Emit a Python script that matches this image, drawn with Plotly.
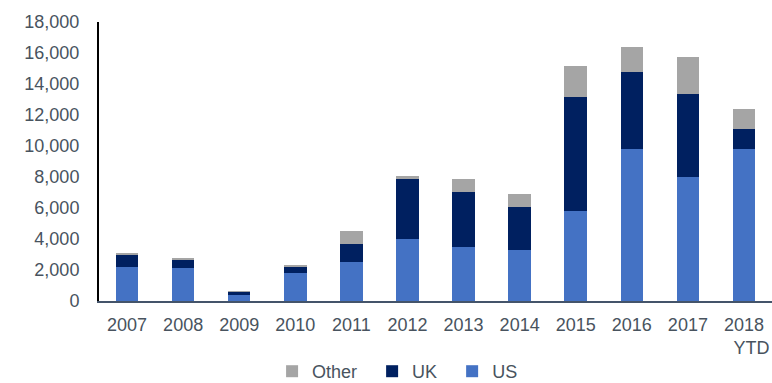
import plotly.graph_objects as go

years = ["2007", "2008", "2009", "2010", "2011", "2012", "2013", "2014",
         "2015", "2016", "2017", "2018<br>\u00a0\u00a0\u00a0YTD"]
us = [2210, 2110, 410, 1830, 2500, 4000, 3480, 3290, 5810, 9810, 8000, 9810]
uk = [760, 580, 190, 340, 1180, 3870, 3570, 2770, 7350, 4960, 5350, 1290]
other = [110, 100, 20, 150, 840, 210, 820, 840, 2000, 1600, 2410, 1290]

text_color = "#48535E"
font = dict(family="Liberation Sans, Arial, sans-serif", size=18, color=text_color)

fig = go.Figure()
fig.add_trace(go.Bar(name="US", x=years, y=us, marker=dict(color="#4472C4", line=dict(width=0))))
fig.add_trace(go.Bar(name="UK\u00a0\u00a0", x=years, y=uk, marker=dict(color="#002060", line=dict(width=0))))
fig.add_trace(go.Bar(name="Other\u00a0\u00a0", x=years, y=other, marker=dict(color="#A5A5A5", line=dict(width=0))))

fig.update_layout(
    width=772, height=383,
    barmode="stack", bargap=0.6,
    paper_bgcolor="white", plot_bgcolor="white",
    margin=dict(l=99, r=0, t=22, b=82, autoexpand=False),
    font=font,
    showlegend=True,
    legend=dict(orientation="h", traceorder="reversed", xref="container", x=0.515, xanchor="center",
                yref="container", y=0.03, yanchor="middle", font=font,
                itemwidth=30, bgcolor="rgba(0,0,0,0)"),
    xaxis=dict(showline=True, linecolor="#44546A", linewidth=2, ticks="", showgrid=False,
               tickfont=font, ticklabelstandoff=6, tickangle=0, automargin=False),
    yaxis=dict(range=[0, 18000], dtick=2000, tickformat=",", showline=True, linecolor="black",
               linewidth=2, showgrid=False, zeroline=False, ticks="", tickfont=font,
               ticklabelstandoff=14, automargin=False),
)

fig.write_html("out.html")
